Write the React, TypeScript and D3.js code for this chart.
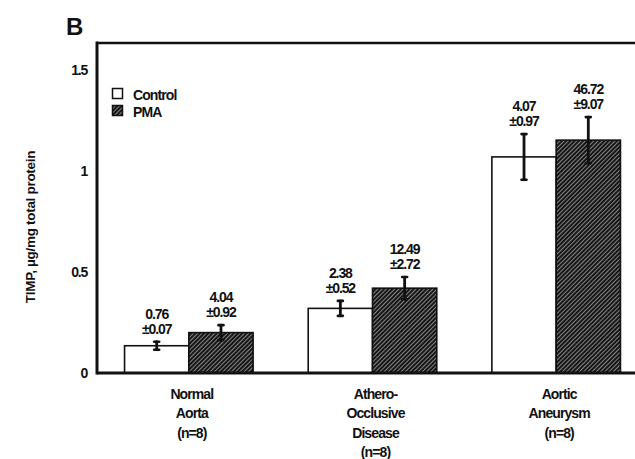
import { useEffect } from "react";
import * as d3 from "d3";

const categories = ["Normal Aorta", "Athero-Occlusive Disease", "Aortic Aneurysm"];
const categoryLines = [
  ["Normal", "Aorta", "(n=8)"],
  ["Athero-", "Occlusive", "Disease", "(n=8)"],
  ["Aortic", "Aneurysm", "(n=8)"],
];
const seriesNames = ["Control", "PMA"];
const controlValues = [0.135, 0.32, 1.07];
const pmaValues = [0.2, 0.42, 1.153];
const controlErrors = [0.02, 0.037, 0.113];
const pmaErrors = [0.037, 0.055, 0.114];
const controlLabels = [
  ["0.76", "±0.07"],
  ["2.38", "±0.52"],
  ["4.07", "±0.97"],
];
const pmaLabels = [
  ["4.04", "±0.92"],
  ["12.49", "±2.72"],
  ["46.72", "±9.07"],
];
const yTicks = [0, 0.5, 1, 1.5];

const W = 635;
const H = 459;
const FONT = "'Liberation Sans', Arial, Helvetica, sans-serif";

export default function App() {
  useEffect(() => {
    document.body.style.margin = "0";
  }, []);

  const left = 97;
  const baseY = 373;
  const topY = 43;

  const y = d3.scaleLinear().domain([0, 1.634]).range([baseY, topY]);
  const x0 = d3
    .scaleBand<string>()
    .domain(categories)
    .range([left, 648])
    .paddingInner(0.3)
    .paddingOuter(0.15);
  const x1 = d3
    .scaleBand<string>()
    .domain(seriesNames)
    .range([0, x0.bandwidth()]);

  const series = [
    { name: "Control", values: controlValues, errors: controlErrors, labels: controlLabels },
    { name: "PMA", values: pmaValues, errors: pmaErrors, labels: pmaLabels },
  ];

  return (
    <svg width={W} height={H} style={{ display: "block", background: "#fff" }} fontFamily={FONT}>
      <defs>
        <pattern
          id="hatch"
          patternUnits="userSpaceOnUse"
          width={3}
          height={3}
          patternTransform="rotate(45)"
        >
          <rect width={3} height={3} fill="#161616" />
          <line x1={0} y1={0} x2={0} y2={3} stroke="#e0e0e0" strokeWidth={1.1} />
        </pattern>
      </defs>

      {/* panel letter */}
      <text x={66} y={35} fontSize={24} fontWeight={900} fill="#111">
        B
      </text>

      {/* y axis title */}
      <text
        transform={`translate(35,227) rotate(-90)`}
        textAnchor="middle"
        fontSize={13.5}
        fontWeight="bold"
        fill="#111"
        letterSpacing={-0.3}
      >
        TIMP, µg/mg total protein
      </text>

      {/* y tick labels */}
      {yTicks.map((t) => (
        <text
          key={t}
          x={87}
          y={y(t)}
          dy="0.35em"
          textAnchor="end"
          fontSize={14}
          fontWeight="bold"
          fill="#111"
          letterSpacing={-1.2}
        >
          {t === 0 || t === 1 ? String(t) : t.toFixed(1)}
        </text>
      ))}

      {/* bars */}
      {series.map((s) =>
        categories.map((c, i) => {
          const bx = (x0(c) ?? 0) + (x1(s.name) ?? 0);
          const by = y(s.values[i]);
          return (
            <rect
              key={s.name + c}
              x={bx}
              y={by}
              width={x1.bandwidth()}
              height={baseY - by}
              fill={s.name === "PMA" ? "url(#hatch)" : "#fff"}
              stroke="#111"
              strokeWidth={1.6}
            />
          );
        })
      )}

      {/* error bars */}
      {series.map((s) =>
        categories.map((c, i) => {
          const cx = (x0(c) ?? 0) + (x1(s.name) ?? 0) + x1.bandwidth() / 2;
          const hi = y(s.values[i] + s.errors[i]);
          const lo = y(s.values[i] - s.errors[i]);
          return (
            <g key={"e" + s.name + c} stroke="#111" strokeLinecap="round">
              <line x1={cx} x2={cx} y1={hi} y2={lo} strokeWidth={2.8} />
              <line x1={cx - 2.5} x2={cx + 2.5} y1={hi} y2={hi} strokeWidth={2.6} />
              <line x1={cx - 2.5} x2={cx + 2.5} y1={lo} y2={lo} strokeWidth={2.6} />
            </g>
          );
        })
      )}

      {/* value annotations */}
      {series.map((s) =>
        categories.map((c, i) => {
          const cx = (x0(c) ?? 0) + (x1(s.name) ?? 0) + x1.bandwidth() / 2;
          const hi = y(s.values[i] + s.errors[i]);
          return (
            <text
              key={"l" + s.name + c}
              textAnchor="middle"
              fontSize={14}
              fontWeight="bold"
              fill="#111"
              letterSpacing={-1.1}
            >
              <tspan x={cx} y={hi - 23}>
                {s.labels[i][0]}
              </tspan>
              <tspan x={cx} y={hi - 8}>
                {s.labels[i][1]}
              </tspan>
            </text>
          );
        })
      )}

      {/* axes and frame */}
      <line x1={left} x2={W} y1={baseY} y2={baseY} stroke="#111" strokeWidth={3} />
      <line x1={left} x2={left} y1={topY - 1.5} y2={baseY + 1.5} stroke="#111" strokeWidth={3} />
      <line x1={left} x2={W} y1={topY} y2={topY} stroke="#111" strokeWidth={2.6} />

      {/* legend */}
      <rect x={112.5} y={88.5} width={10} height={10} fill="#fff" stroke="#111" strokeWidth={1.5} />
      <rect x={112.5} y={105.5} width={10} height={10} fill="url(#hatch)" stroke="#111" strokeWidth={1.5} />
      {seriesNames.map((n, i) => (
        <text
          key={n}
          x={133}
          y={100 + i * 17}
          fontSize={14}
          fontWeight="bold"
          fill="#111"
          letterSpacing={-0.9}
        >
          {n}
        </text>
      ))}

      {/* category labels */}
      {categories.map((c, i) => {
        const cx = (x0(c) ?? 0) + x0.bandwidth() / 2 + 3;
        return (
          <text
            key={"c" + c}
            textAnchor="middle"
            fontSize={14}
            fontWeight="bold"
            fill="#111"
            letterSpacing={-0.9}
          >
            {categoryLines[i].map((ln, j) => (
              <tspan key={j} x={cx} y={399 + j * 19.3}>
                {ln}
              </tspan>
            ))}
          </text>
        );
      })}
    </svg>
  );
}
